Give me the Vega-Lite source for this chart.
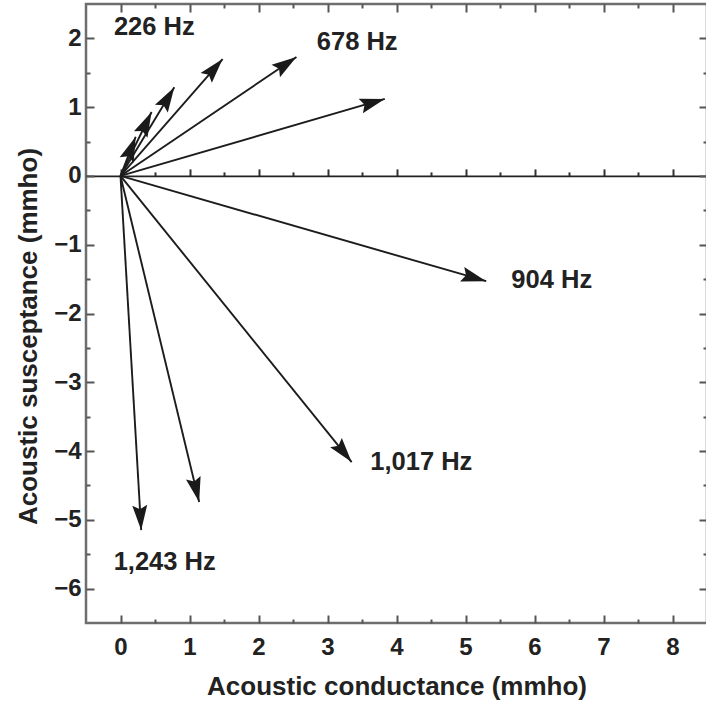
{
  "$schema": "https://vega.github.io/schema/vega-lite/v6.json",
  "width": 621,
  "height": 619,
  "autosize": {"type": "none"},
  "padding": {"left": 86, "top": 4, "right": 0, "bottom": 84},
  "background": "white",
  "config": {
    "view": {"stroke": "#6e6e6e", "strokeWidth": 2.5},
    "axis": {
      "grid": false,
      "domain": false,
      "labelFont": "Liberation Sans",
      "labelFontWeight": "bold",
      "labelFontSize": 24,
      "labelColor": "#222222",
      "titleFont": "Liberation Sans",
      "titleFontWeight": "bold",
      "titleFontSize": 26,
      "titleColor": "#222222",
      "tickColor": "#555555",
      "tickWidth": 2
    }
  },
  "resolve": {"axis": {"x": "independent", "y": "independent"}},
  "datasets": {
    "arrows": [
      {"freq": 226, "g": 0.22, "b": 0.57},
      {"freq": 339, "g": 0.45, "b": 0.93},
      {"freq": 452, "g": 0.78, "b": 1.29},
      {"freq": 565, "g": 1.48, "b": 1.70},
      {"freq": 678, "g": 2.55, "b": 1.73},
      {"freq": 791, "g": 3.83, "b": 1.12},
      {"freq": 904, "g": 5.30, "b": -1.53},
      {"freq": 1017, "g": 3.35, "b": -4.16},
      {"freq": 1130, "g": 1.14, "b": -4.74},
      {"freq": 1243, "g": 0.30, "b": -5.15}
    ],
    "labels": [
      {"label": "226 Hz", "lx": 0.49, "ly": 2.17},
      {"label": "678 Hz", "lx": 3.43, "ly": 1.95},
      {"label": "904 Hz", "lx": 6.25, "ly": -1.51},
      {"label": "1,017 Hz", "lx": 4.36, "ly": -4.16},
      {"label": "1,243 Hz", "lx": 0.64, "ly": -5.61}
    ]
  },
  "layer": [
    {
      "data": {"name": "arrows"},
      "mark": {"type": "rule", "color": "#1c1c1c", "strokeWidth": 1.9},
      "encoding": {
        "x": {"field": "g", "type": "quantitative",
          "scale": {"domain": [-0.5, 8.5], "nice": false, "zero": false},
          "axis": {"orient": "bottom", "title": "Acoustic conductance (mmho)", "values": [0,1,2,3,4,5,6,7,8], "ticks": false, "labelPadding": 12, "titlePadding": 14}},
        "x2": {"datum": 0},
        "y": {"field": "b", "type": "quantitative",
          "scale": {"domain": [-6.5, 2.5], "nice": false, "zero": false},
          "axis": {"orient": "left", "title": "Acoustic susceptance (mmho)", "values": [-6,-5,-4,-3,-2,-1,0,1,2], "ticks": false, "labelPadding": 5, "titlePadding": 12, "titleY": 332}},
        "y2": {"datum": 0}
      }
    },
    {
      "data": {"name": "arrows"},
      "transform": [{"calculate": "atan2(datum.g, datum.b) * 180 / PI", "as": "bearing"}],
      "mark": {"type": "point", "shape": "M0,0L-0.3,1L0,0.84L0.3,1Z", "filled": true, "size": 2500, "color": "#1a1a1a", "opacity": 1, "strokeWidth": 0},
      "encoding": {
        "x": {"field": "g", "type": "quantitative",
          "scale": {"domain": [-0.5, 8.5], "nice": false, "zero": false},
          "axis": {"orient": "bottom", "title": null, "labels": false, "values": [0,1,2,3,4,5,6,7,8], "tickSize": -8}},
        "y": {"field": "b", "type": "quantitative",
          "scale": {"domain": [-6.5, 2.5], "nice": false, "zero": false},
          "axis": {"orient": "left", "title": null, "labels": false, "values": [-6,-5,-4,-3,-2,-1,0,1,2], "tickSize": -8}},
        "angle": {"field": "bearing", "type": "quantitative", "scale": null}
      }
    },
    {
      "data": {"name": "labels"},
      "mark": {"type": "text", "font": "Liberation Sans", "fontWeight": "bold", "fontSize": 25.5, "color": "#222222", "align": "center", "baseline": "middle"},
      "encoding": {
        "x": {"field": "lx", "type": "quantitative",
          "scale": {"domain": [-0.5, 8.5], "nice": false, "zero": false},
          "axis": {"orient": "bottom", "title": null, "labels": false, "values": [0.5,1.5,2.5,3.5,4.5,5.5,6.5,7.5], "tickSize": -4}},
        "y": {"field": "ly", "type": "quantitative",
          "scale": {"domain": [-6.5, 2.5], "nice": false, "zero": false},
          "axis": {"orient": "left", "title": null, "labels": false, "values": [-5.5,-4.5,-3.5,-2.5,-1.5,-0.5,0.5,1.5], "tickSize": -4}},
        "text": {"field": "label"}
      }
    },
    {
      "data": {"name": "arrows"},
      "mark": {"type": "point", "opacity": 0},
      "encoding": {
        "x": {"field": "g", "type": "quantitative",
          "scale": {"domain": [-0.5, 8.5], "nice": false, "zero": false},
          "axis": {"orient": "top", "title": null, "labels": false, "values": [0,1,2,3,4,5,6,7,8], "tickSize": -8}},
        "y": {"field": "b", "type": "quantitative",
          "scale": {"domain": [-6.5, 2.5], "nice": false, "zero": false},
          "axis": {"orient": "right", "title": null, "labels": false, "values": [-6,-5,-4,-3,-2,-1,0,1,2], "tickSize": -8}}
      }
    },
    {
      "data": {"name": "arrows"},
      "mark": {"type": "point", "opacity": 0},
      "encoding": {
        "x": {"field": "g", "type": "quantitative",
          "scale": {"domain": [-0.5, 8.5], "nice": false, "zero": false},
          "axis": {"orient": "top", "title": null, "labels": false, "values": [0.5,1.5,2.5,3.5,4.5,5.5,6.5,7.5], "tickSize": -4}},
        "y": {"field": "b", "type": "quantitative",
          "scale": {"domain": [-6.5, 2.5], "nice": false, "zero": false},
          "axis": {"orient": "right", "title": null, "labels": false, "values": [-5.5,-4.5,-3.5,-2.5,-1.5,-0.5,0.5,1.5], "tickSize": -4}}
      }
    },
    {
      "data": {"name": "arrows"},
      "mark": {"type": "point", "opacity": 0},
      "encoding": {
        "x": {"field": "g", "type": "quantitative",
          "scale": {"domain": [-0.5, 8.5], "nice": false, "zero": false},
          "axis": {"orient": "top", "offset": -171.9, "title": null, "labels": false, "domain": true, "domainColor": "#222222", "domainWidth": 1.6, "values": [0,1,2,3,4,5,6,7,8], "tickSize": 7, "tickColor": "#333333"}},
        "y": {"field": "b", "type": "quantitative",
          "scale": {"domain": [-6.5, 2.5], "nice": false, "zero": false},
          "axis": null}
      }
    },
    {
      "data": {"name": "arrows"},
      "mark": {"type": "point", "opacity": 0},
      "encoding": {
        "x": {"field": "g", "type": "quantitative",
          "scale": {"domain": [-0.5, 8.5], "nice": false, "zero": false},
          "axis": {"orient": "top", "offset": -171.9, "title": null, "labels": false, "values": [0.5,1.5,2.5,3.5,4.5,5.5,6.5,7.5], "tickSize": 4, "tickColor": "#333333"}},
        "y": {"field": "b", "type": "quantitative",
          "scale": {"domain": [-6.5, 2.5], "nice": false, "zero": false},
          "axis": null}
      }
    }
  ]
}
